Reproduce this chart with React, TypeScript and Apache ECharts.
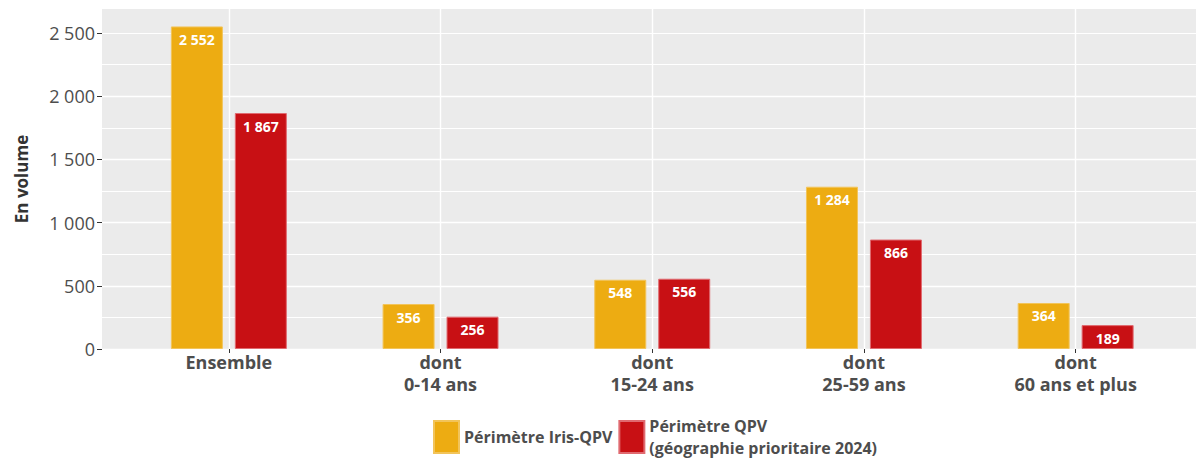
import React, { useEffect, useRef } from "react";
import * as echarts from "echarts";

const categories = [
  "Ensemble",
  "dont\n0-14 ans",
  "dont\n15-24 ans",
  "dont\n25-59 ans",
  "dont\n60 ans et plus",
];
const irisQpv = [2552, 356, 548, 1284, 364];
const qpv2024 = [1867, 256, 556, 866, 189];
const seriesNames = ["Périmètre Iris-QPV", "Périmètre QPV\n(géographie prioritaire 2024)"];
const yTickValues = [0, 500, 1000, 1500, 2000, 2500];
const yMax = 2690;

const fmt = (v: number) => String(v).replace(/\B(?=(\d{3})+(?!\d))/g, " ");

export default function App() {
  const ref = useRef<HTMLDivElement>(null);
  useEffect(() => {
    if (!ref.current) return;
    const chart = echarts.init(ref.current, null, { renderer: "svg" });
    const barLabel = {
      show: true,
      position: "insideTop",
      distance: 6,
      color: "#ffffff",
      fontWeight: "bold",
      fontSize: 14,
      formatter: (p: any) => fmt(p.value),
    };
    chart.setOption({
      animation: false,
      textStyle: { fontFamily: "'Open Sans', 'Noto Sans', sans-serif" },
      grid: [
        { left: 102, right: 0, top: 9, bottom: 109, show: true, backgroundColor: "#EBEBEB", borderWidth: 0 },
        { left: 123, right: 14.5, top: 9, bottom: 109 },
      ],
      xAxis: [
        { gridIndex: 0, type: "value", min: 0, max: 1, show: false },
        {
          gridIndex: 1,
          type: "category",
          data: categories,
          axisLine: { show: false },
          axisTick: { show: true, alignWithLabel: true, length: 4, lineStyle: { color: "#333333" } },
          axisLabel: { interval: 0, fontSize: 18, fontWeight: "bold", color: "#4D4D4D", margin: 2, lineHeight: 22 },
          splitLine: { show: true, alignWithLabel: true, interval: 0, lineStyle: { color: "#ffffff", width: 1.4 } },
        },
      ],
      yAxis: [
        {
          gridIndex: 0,
          type: "value",
          min: 0,
          max: yMax,
          interval: 500,
          position: "left",
          name: "En volume",
          nameLocation: "middle",
          nameGap: 72,
          nameTextStyle: { fontSize: 17, fontWeight: "bold", color: "#333333" },
          axisLine: { show: false },
          axisTick: { show: true, length: 5, customValues: yTickValues, lineStyle: { color: "#333333" } },
          axisLabel: {
            customValues: yTickValues,
            fontSize: 18,
            color: "#4D4D4D",
            margin: 7,
            formatter: (v: number) => fmt(v),
          },
          splitLine: { show: true, showMaxLine: false, lineStyle: { color: "#ffffff", width: 1.4 } },
        },
        {
          gridIndex: 0,
          type: "value",
          min: 0,
          max: yMax,
          interval: 250,
          position: "right",
          axisLine: { show: false },
          axisTick: { show: false },
          axisLabel: { show: false },
          splitLine: { show: true, showMaxLine: false, lineStyle: { color: "#ffffff", width: 1 } },
        },
        { gridIndex: 1, type: "value", min: 0, max: yMax, show: false, splitLine: { show: false } },
      ],
      legend: {
        data: seriesNames,
        left: 433,
        top: 415,
        padding: 0,
        itemWidth: 25,
        itemHeight: 32,
        itemGap: 6,
        icon: "rect",
        textStyle: { fontSize: 16, fontWeight: "bold", color: "#4D4D4D", lineHeight: 22 },
      },
      series: [
        {
          name: seriesNames[0],
          type: "bar",
          xAxisIndex: 1,
          yAxisIndex: 2,
          data: irisQpv,
          barWidth: 52,
          barGap: "23%",
          itemStyle: { color: "#EDAC12", borderColor: "#F2C45A", borderWidth: 1 },
          label: barLabel,
        },
        {
          name: seriesNames[1],
          type: "bar",
          xAxisIndex: 1,
          yAxisIndex: 2,
          data: qpv2024,
          barWidth: 52,
          barGap: "23%",
          itemStyle: { color: "#C81014", borderColor: "#E06A70", borderWidth: 1 },
          label: barLabel,
        },
      ],
    });
    return () => chart.dispose();
  }, []);
  return (
    <div
      ref={ref}
      style={{ position: "fixed", left: 0, top: 0, width: 1196, height: 458, background: "#ffffff" }}
    />
  );
}
